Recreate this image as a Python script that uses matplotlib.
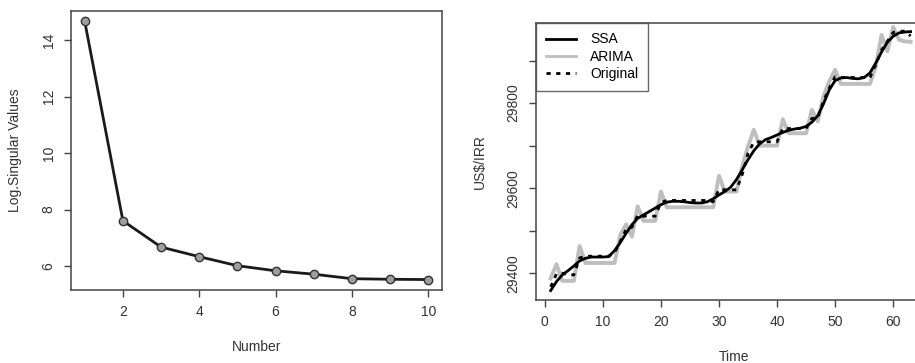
import matplotlib
matplotlib.use("Agg")
import matplotlib.pyplot as plt

plt.rcParams['font.family'] = ['Liberation Sans', 'DejaVu Sans']

# left panel: log singular values
number = [1, 2, 3, 4, 5, 6, 7, 8, 9, 10]
log_sv = [14.66, 7.60, 6.67, 6.33, 6.01, 5.83, 5.71, 5.55, 5.53, 5.52]

# right panel: US$/IRR series
time = list(range(1, 64))
ssa = [29359, 29380, 29396, 29406, 29417, 29429, 29435, 29438, 29438, 29438,
       29439, 29453, 29472, 29494, 29514, 29529, 29537, 29545, 29553, 29561,
       29567, 29569, 29569, 29568, 29566, 29565, 29565, 29568, 29575, 29584,
       29592, 29602, 29620, 29643, 29667, 29688, 29704, 29714, 29719, 29725,
       29731, 29736, 29739, 29741, 29745, 29755, 29770, 29798, 29831, 29853,
       29859, 29860, 29858, 29857, 29860, 29871, 29894, 29920, 29943, 29957,
       29965, 29967, 29968]
arima = [29388, 29421, 29382, 29382, 29382, 29464, 29424, 29424, 29424, 29424,
         29424, 29424, 29490, 29515, 29486, 29557, 29523, 29523, 29523, 29592,
         29555, 29555, 29555, 29555, 29555, 29555, 29555, 29555, 29555, 29629,
         29592, 29592, 29592, 29651, 29698, 29737, 29700, 29700, 29700, 29700,
         29762, 29729, 29729, 29729, 29729, 29784, 29757, 29816, 29851, 29878,
         29845, 29845, 29845, 29845, 29845, 29845, 29886, 29960, 29922, 29979,
         29949, 29945, 29944]
original = [29368, 29398, 29400, 29396, 29396, 29436, 29440, 29440, 29440, 29440,
            29440, 29448, 29475, 29503, 29508, 29536, 29534, 29534, 29534, 29566,
            29571, 29571, 29571, 29571, 29571, 29571, 29571, 29571, 29568, 29597,
            29596, 29596, 29596, 29632, 29682, 29708, 29709, 29709, 29709, 29709,
            29741, 29740, 29740, 29740, 29740, 29764, 29765, 29805, 29835, 29862,
            29860, 29860, 29860, 29860, 29860, 29860, 29890, 29925, 29945, 29966,
            29969, 29969, 29958]

frame = '#444444'
fig = plt.figure(figsize=(9.15, 3.63), dpi=100)

ax1 = fig.add_axes([0.0776, 0.2011, 0.4055, 0.7686])
ax1.plot(number, log_sv, color='#1a1a1a', linewidth=2, marker='o', markersize=6,
         markerfacecolor='#9e9e9e', markeredgecolor='#333333', markeredgewidth=1)
ax1.set_xlim(0.64, 10.36)
ax1.set_ylim(5.15, 15.03)
ax1.set_xticks([2, 4, 6, 8, 10])
ax1.set_yticks([6, 8, 10, 12, 14])
ax1.set_yticklabels(['6', '8', '10', '12', '14'], rotation=90, va='center')
ax1.set_xlabel('Number', fontsize=10, color='#333333', labelpad=15)
ax1.set_ylabel('Log.Singular Values', fontsize=10, color='#333333', labelpad=14)

ax2 = fig.add_axes([0.5858, 0.1736, 0.4317, 0.7639])
ax2.plot(time, arima, color='#bebebe', linewidth=2.8, label='ARIMA', zorder=2)
ax2.plot(time, ssa, color='black', linewidth=2, label='SSA', zorder=3)
ax2.plot(time, original, color='black', linewidth=2, linestyle=(0, (1.5, 2)),
         label='Original', zorder=4)
ax2.set_xlim(-1.52, 66.52)
ax2.set_ylim(29337, 29989)
ax2.set_xticks([0, 10, 20, 30, 40, 50, 60])
ax2.set_yticks([29400, 29500, 29600, 29700, 29800, 29900])
ax2.set_yticklabels(['29400', '', '29600', '', '29800', ''], rotation=90, va='center')
ax2.set_xlabel('Time', fontsize=10, color='#333333', labelpad=15)
ax2.set_ylabel('US$/IRR', fontsize=10, color='#333333', labelpad=14)

handles, labels = ax2.get_legend_handles_labels()
order = [1, 0, 2]
leg = ax2.legend([handles[i] for i in order], [labels[i] for i in order],
                 loc='upper left', fontsize=10, frameon=True, fancybox=False,
                 borderaxespad=0, borderpad=0.7, labelspacing=0.25,
                 handlelength=2.2, handletextpad=1.0)
leg.get_frame().set_edgecolor(frame)
leg.get_frame().set_linewidth(1.0)
leg.legend_handles[1].set_linewidth(2)

for ax in (ax1, ax2):
    for s in ax.spines.values():
        s.set_color(frame)
        s.set_linewidth(1.1)
    ax.tick_params(direction='out', length=5, width=1, color=frame,
                   labelsize=10, labelcolor='#333333', pad=6)

fig.savefig('out.png', dpi=100)
